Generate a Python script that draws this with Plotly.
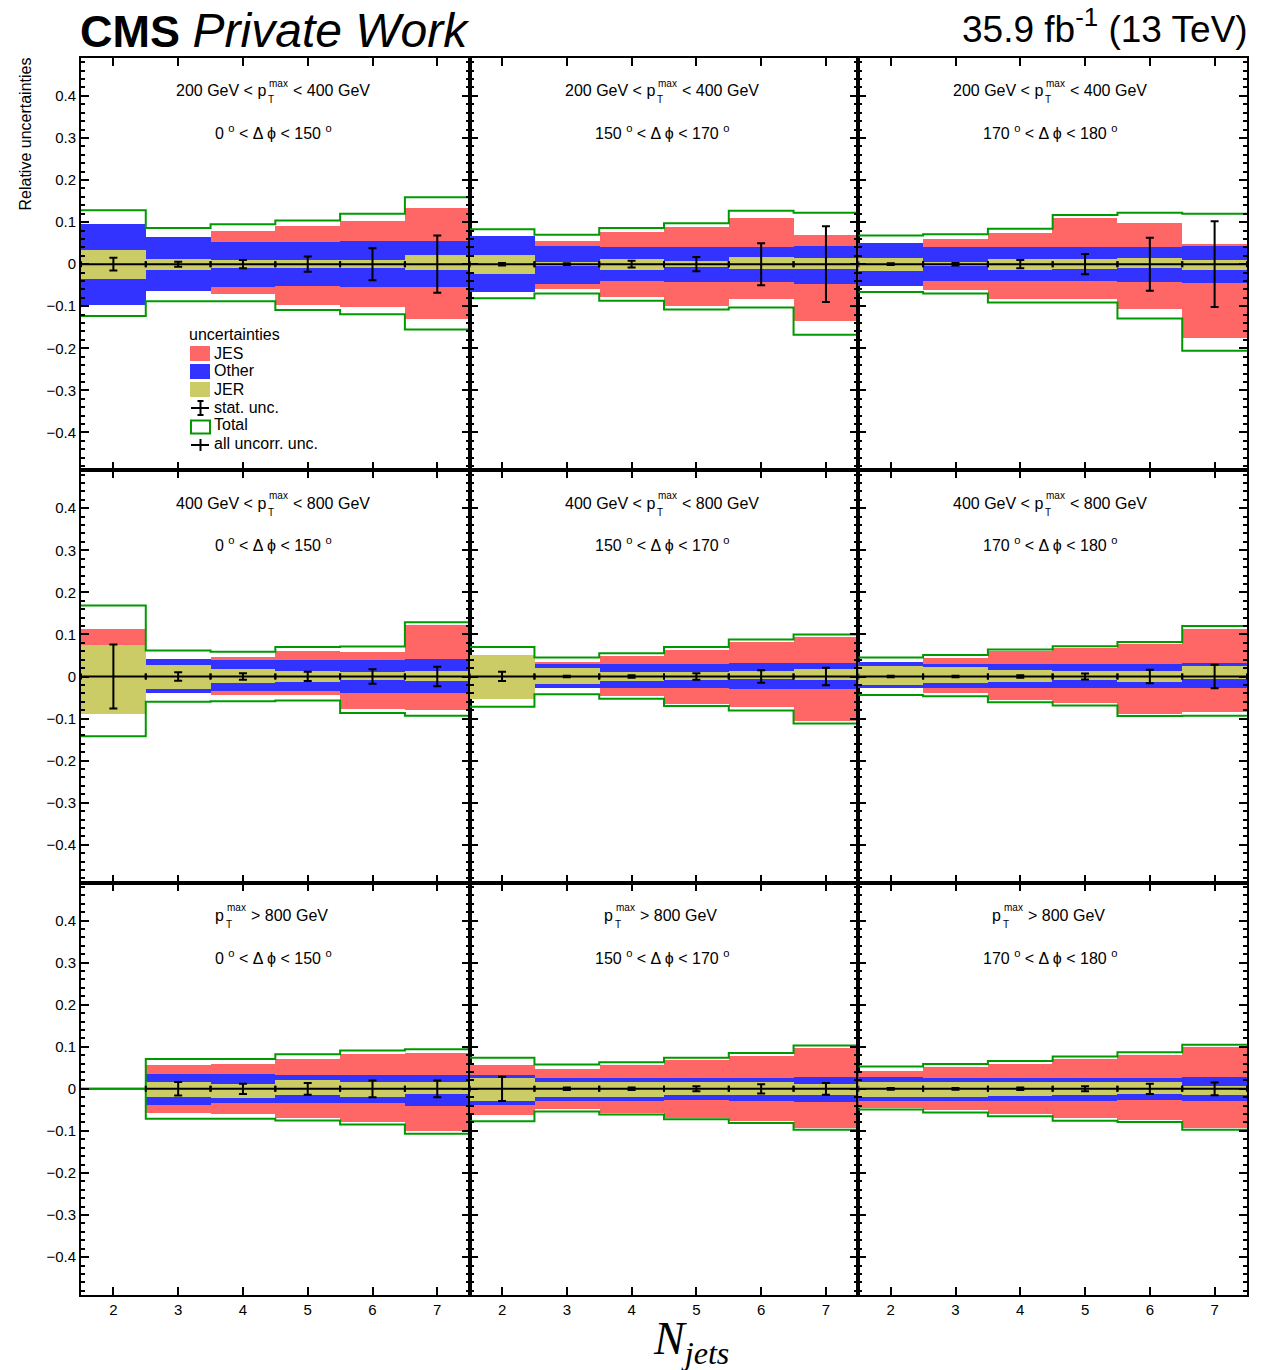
import plotly.graph_objects as go
from plotly.subplots import make_subplots

# ---------------------------------------------------------------- data
NJETS = [2, 3, 4, 5, 6, 7]
BIN_EDGES = [1.5, 2.5, 3.5, 4.5, 5.5, 6.5, 7.5]

# phase-space labels: rows = leading-jet pT bins, columns = delta-phi bins
PT_BINS = [("200 GeV", "400 GeV"), ("400 GeV", "800 GeV"), ("800 GeV", None)]
DPHI_BINS = [("0", "150"), ("150", "170"), ("170", "180")]

# relative uncertainties per panel (row-major), bins Njets = 2..7
TOT_UP = [
    [0.128, 0.086, 0.095, 0.104, 0.120, 0.159],
    [0.083, 0.070, 0.086, 0.097, 0.127, 0.122],
    [0.068, 0.071, 0.084, 0.117, 0.122, 0.120],
    [0.169, 0.062, 0.059, 0.070, 0.071, 0.129],
    [0.070, 0.045, 0.055, 0.070, 0.088, 0.100],
    [0.045, 0.051, 0.064, 0.072, 0.082, 0.120],
    [0.000, 0.071, 0.071, 0.082, 0.091, 0.094],
    [0.074, 0.058, 0.063, 0.074, 0.085, 0.103],
    [0.053, 0.059, 0.066, 0.077, 0.087, 0.105],
]
TOT_DN = [
    [-0.123, -0.088, -0.088, -0.109, -0.119, -0.155],
    [-0.081, -0.070, -0.087, -0.108, -0.103, -0.168],
    [-0.066, -0.070, -0.091, -0.091, -0.129, -0.206],
    [-0.142, -0.060, -0.059, -0.057, -0.087, -0.093],
    [-0.072, -0.042, -0.053, -0.070, -0.081, -0.112],
    [-0.044, -0.047, -0.061, -0.069, -0.094, -0.093],
    [0.000, -0.071, -0.071, -0.075, -0.085, -0.107],
    [-0.077, -0.054, -0.061, -0.072, -0.081, -0.097],
    [-0.049, -0.056, -0.065, -0.076, -0.079, -0.097],
]
JES_UP = [
    [0.096, 0.065, 0.079, 0.090, 0.103, 0.133],
    [0.068, 0.054, 0.076, 0.089, 0.110, 0.070],
    [0.051, 0.059, 0.075, 0.109, 0.097, 0.047],
    [0.111, 0.041, 0.046, 0.059, 0.058, 0.122],
    [0.050, 0.033, 0.048, 0.063, 0.082, 0.093],
    [0.033, 0.043, 0.059, 0.066, 0.076, 0.113],
    [0.000, 0.058, 0.060, 0.071, 0.083, 0.085],
    [0.057, 0.047, 0.058, 0.069, 0.079, 0.098],
    [0.044, 0.052, 0.060, 0.072, 0.081, 0.100],
]
JES_DN = [
    [-0.097, -0.064, -0.071, -0.097, -0.101, -0.130],
    [-0.067, -0.058, -0.077, -0.100, -0.082, -0.134],
    [-0.052, -0.062, -0.082, -0.082, -0.107, -0.176],
    [-0.089, -0.041, -0.045, -0.045, -0.077, -0.080],
    [-0.055, -0.028, -0.048, -0.065, -0.074, -0.106],
    [-0.029, -0.040, -0.056, -0.064, -0.089, -0.085],
    [0.000, -0.056, -0.059, -0.068, -0.079, -0.100],
    [-0.061, -0.047, -0.056, -0.068, -0.075, -0.093],
    [-0.044, -0.049, -0.059, -0.069, -0.073, -0.093],
]
OTH_UP = [
    [0.096, 0.065, 0.053, 0.053, 0.055, 0.055],
    [0.068, 0.044, 0.041, 0.041, 0.041, 0.044],
    [0.051, 0.041, 0.040, 0.040, 0.040, 0.044],
    [0.060, 0.041, 0.038, 0.038, 0.038, 0.040],
    [0.040, 0.030, 0.030, 0.030, 0.032, 0.032],
    [0.033, 0.029, 0.029, 0.030, 0.030, 0.032],
    [0.000, 0.036, 0.036, 0.034, 0.034, 0.034],
    [0.034, 0.027, 0.027, 0.027, 0.027, 0.030],
    [0.028, 0.026, 0.026, 0.026, 0.026, 0.028],
]
OTH_DN = [
    [-0.097, -0.064, -0.054, -0.052, -0.054, -0.055],
    [-0.067, -0.046, -0.041, -0.042, -0.042, -0.046],
    [-0.052, -0.041, -0.041, -0.041, -0.043, -0.044],
    [-0.060, -0.041, -0.035, -0.035, -0.039, -0.039],
    [-0.040, -0.028, -0.028, -0.028, -0.031, -0.031],
    [-0.029, -0.027, -0.027, -0.028, -0.028, -0.029],
    [0.000, -0.037, -0.034, -0.032, -0.032, -0.040],
    [-0.037, -0.028, -0.028, -0.026, -0.028, -0.030],
    [-0.028, -0.028, -0.028, -0.028, -0.025, -0.028],
]
JER_UP = [
    [0.033, 0.013, 0.009, 0.011, 0.011, 0.021],
    [0.022, 0.004, 0.013, 0.007, 0.017, 0.015],
    [0.015, 0.004, 0.013, 0.013, 0.014, 0.009],
    [0.073, 0.027, 0.016, 0.013, 0.011, 0.013],
    [0.050, 0.019, 0.009, 0.009, 0.013, 0.017],
    [0.023, 0.021, 0.014, 0.013, 0.013, 0.024],
    [0.000, 0.018, 0.013, 0.022, 0.018, 0.018],
    [0.026, 0.018, 0.016, 0.016, 0.017, 0.012],
    [0.018, 0.018, 0.017, 0.016, 0.018, 0.008],
]
JER_DN = [
    [-0.036, -0.013, -0.008, -0.008, -0.008, -0.013],
    [-0.023, -0.004, -0.013, -0.007, -0.012, -0.012],
    [-0.017, -0.004, -0.015, -0.011, -0.010, -0.013],
    [-0.089, -0.031, -0.017, -0.014, -0.010, -0.011],
    [-0.055, -0.019, -0.011, -0.010, -0.007, -0.010],
    [-0.020, -0.017, -0.013, -0.009, -0.013, -0.007],
    [0.000, -0.018, -0.022, -0.015, -0.018, -0.011],
    [-0.028, -0.018, -0.018, -0.014, -0.013, -0.014],
    [-0.018, -0.018, -0.017, -0.015, -0.012, -0.014],
]
STAT = [
    [0.015, 0.006, 0.010, 0.018, 0.038, 0.068],
    [0.003, 0.002, 0.008, 0.017, 0.050, 0.090],
    [0.002, 0.003, 0.010, 0.024, 0.063, 0.102],
    [0.076, 0.010, 0.008, 0.011, 0.017, 0.023],
    [0.011, 0.002, 0.003, 0.008, 0.015, 0.021],
    [0.002, 0.002, 0.003, 0.007, 0.016, 0.028],
    [None, 0.016, 0.012, 0.014, 0.020, 0.020],
    [0.029, 0.003, 0.003, 0.006, 0.011, 0.014],
    [0.002, 0.002, 0.003, 0.006, 0.012, 0.015],
]
CENTRAL = 0.0  # relative deviation of the nominal result

Y_TICKS = [-0.4, -0.3, -0.2, -0.1, 0.0, 0.1, 0.2, 0.3, 0.4]
Y_LABELS = ["\u22120.4", "\u22120.3", "\u22120.2", "\u22120.1", "0", "0.1", "0.2", "0.3", "0.4"]
Y_MINOR = [round(-0.48 + 0.02 * k, 2) for k in range(49)]
Y_MINOR = [v for v in Y_MINOR if abs(round(v * 10) - v * 10) > 1e-6]

# ---------------------------------------------------------------- style
W, H = 1276, 1370
ML, MR, MT, MB = 81, 29, 58, 75
C_JES, C_OTH, C_JER, C_TOT = "#ff6666", "#3333ff", "#cccc66", "#009a00"
FONT = "Liberation Sans, Arial, Helvetica, sans-serif"


def X(px):
    return (px - ML) / (W - ML - MR)


def Y(py):
    return (H - MB - py) / (H - MT - MB)


PW = (W - ML - MR) / 3.0
PH = (H - MT - MB) / 3.0

fig = make_subplots(rows=3, cols=3, horizontal_spacing=0, vertical_spacing=0)

for p in range(9):
    r, c = divmod(p, 3)
    row, col = r + 1, c + 1
    # stacked uncertainty bands (outermost first)
    for up, dn, colr in ((JES_UP[p], JES_DN[p], C_JES),
                         (OTH_UP[p], OTH_DN[p], C_OTH),
                         (JER_UP[p], JER_DN[p], C_JER)):
        fig.add_trace(go.Bar(x=NJETS, y=[u - d for u, d in zip(up, dn)], base=dn,
                             width=1.0, marker=dict(color=colr, line=dict(width=0)),
                             showlegend=False, hoverinfo="skip"), row=row, col=col)
    # total uncertainty outline
    for edge in (TOT_UP[p], TOT_DN[p]):
        fig.add_trace(go.Scatter(x=BIN_EDGES, y=list(edge) + [edge[-1]], mode="lines",
                                 line=dict(color=C_TOT, width=2, shape="hv"),
                                 showlegend=False, hoverinfo="skip"), row=row, col=col)
    idx = [i for i, s in enumerate(STAT[p]) if s is not None]
    xs = [NJETS[i] for i in idx]
    # all uncorrelated uncertainties (bin-wide cross)
    fig.add_trace(go.Scatter(x=xs, y=[CENTRAL] * len(xs), mode="markers",
                             marker=dict(size=1, color="black"),
                             error_x=dict(type="constant", value=0.5, thickness=2,
                                          width=3, color="black"),
                             showlegend=False, hoverinfo="skip"), row=row, col=col)
    # statistical uncertainty
    fig.add_trace(go.Scatter(x=xs, y=[CENTRAL] * len(xs), mode="markers",
                             marker=dict(size=2, color="black"),
                             error_y=dict(type="data", array=[STAT[p][i] for i in idx],
                                          thickness=2, width=4, color="black"),
                             showlegend=False, hoverinfo="skip"), row=row, col=col)

    fig.update_xaxes(range=[1.5, 7.5], tickmode="array", tickvals=NJETS,
                     ticktext=[str(n) for n in NJETS], showticklabels=(r == 2),
                     ticks="inside", ticklen=8, tickwidth=2, tickcolor="black",
                     showline=True, linewidth=2, linecolor="black", mirror="allticks",
                     showgrid=False, zeroline=False,
                     tickfont=dict(family=FONT, size=15, color="black"),
                     row=row, col=col)
    fig.update_yaxes(range=[-0.49, 0.49], tickmode="array", tickvals=Y_TICKS,
                     ticktext=Y_LABELS, showticklabels=(c == 0),
                     ticks="inside", ticklen=8, tickwidth=2, tickcolor="black",
                     minor=dict(tickmode="array", tickvals=Y_MINOR, ticks="inside",
                                ticklen=4, tickwidth=1.5, tickcolor="black"),
                     showline=True, linewidth=2, linecolor="black", mirror="allticks",
                     showgrid=False, zeroline=False,
                     tickfont=dict(family=FONT, size=15, color="black"),
                     row=row, col=col)

annotations = []


def text(s, px, py, size=16, xanchor="left", yanchor="middle", **kw):
    annotations.append(dict(text=s, x=X(px), y=Y(py), xref="paper", yref="paper",
                            xanchor=xanchor, yanchor=yanchor, showarrow=False,
                            font=dict(family=kw.pop("family", FONT), size=size,
                                      color="black"), **kw))


# panel labels
for p in range(9):
    r, c = divmod(p, 3)
    left = ML + c * PW
    top = MT + r * PH
    lo, hi = PT_BINS[r]
    if hi is not None:
        anchor = left + 187
        text(f"{lo} < p", anchor, top + 33, xanchor="right")
        text(f"< {hi}", anchor + 23, top + 33)
    else:
        anchor = left + 145
        text("p", anchor, top + 33, xanchor="right")
        text(f"> {lo}", anchor + 23, top + 33)
    text("max", anchor - 1, top + 25, size=10)
    text("T", anchor - 2, top + 42, size=10)
    dlo, dhi = DPHI_BINS[c]
    text(f"{dlo} <sup>o</sup> < \u0394 \u03d5 < {dhi} <sup>o</sup>", left + 192, top + 74,
         xanchor="center")

# header
text("<b>CMS</b> <i><span style='font-size:48px'>Private Work</span></i>", 78, 30, size=45)
text("35.9 fb<sup>-1</sup> (13 TeV)", 1250, 27, size=37, xanchor="right")
# axis titles
text("Relative uncertainties", 25, 56, size=16, xanchor="center", yanchor="top",
     textangle=-90)
text("<i>N<sub>jets</sub></i>", 691, 1342, size=46, xanchor="center",
     family="Liberation Serif, Times New Roman, serif")

# legend (drawn inside the first panel)
shapes = []


def rect(x0, y0, x1, y1, fill=None, line=None):
    shapes.append(dict(type="rect", xref="paper", yref="paper",
                       x0=X(x0), x1=X(x1), y0=Y(y1), y1=Y(y0),
                       fillcolor=fill or "rgba(0,0,0,0)",
                       line=dict(width=2 if line else 0, color=line or "rgba(0,0,0,0)")))


def seg(x0, y0, x1, y1, color="black", width=2):
    shapes.append(dict(type="line", xref="paper", yref="paper",
                       x0=X(x0), x1=X(x1), y0=Y(y0), y1=Y(y1),
                       line=dict(color=color, width=width)))


text("uncertainties", 187, 334)
rect(190, 346, 210, 361, fill=C_JES)
text("JES", 212, 353)
rect(190, 364, 210, 379, fill=C_OTH)
text("Other", 212, 371)
rect(190, 382, 210, 397, fill=C_JER)
text("JER", 212, 389)
seg(191, 408, 209, 408)
seg(200.5, 401, 200.5, 415)
seg(197.5, 401, 203.5, 401)
seg(197.5, 415, 203.5, 415)
text("stat. unc.", 212, 407)
rect(191, 420.5, 210, 433.5, line=C_TOT)
text("Total", 212, 425)
seg(191, 445, 209, 445)
seg(200.5, 439, 200.5, 451)
text("all uncorr. unc.", 212, 443)

fig.update_layout(
    width=W, height=H,
    margin=dict(l=ML, r=MR, t=MT, b=MB),
    paper_bgcolor="white", plot_bgcolor="white",
    barmode="overlay", bargap=0,
    showlegend=False,
    annotations=annotations, shapes=shapes,
    font=dict(family=FONT, color="black"),
)

fig.write_html("out.html")
